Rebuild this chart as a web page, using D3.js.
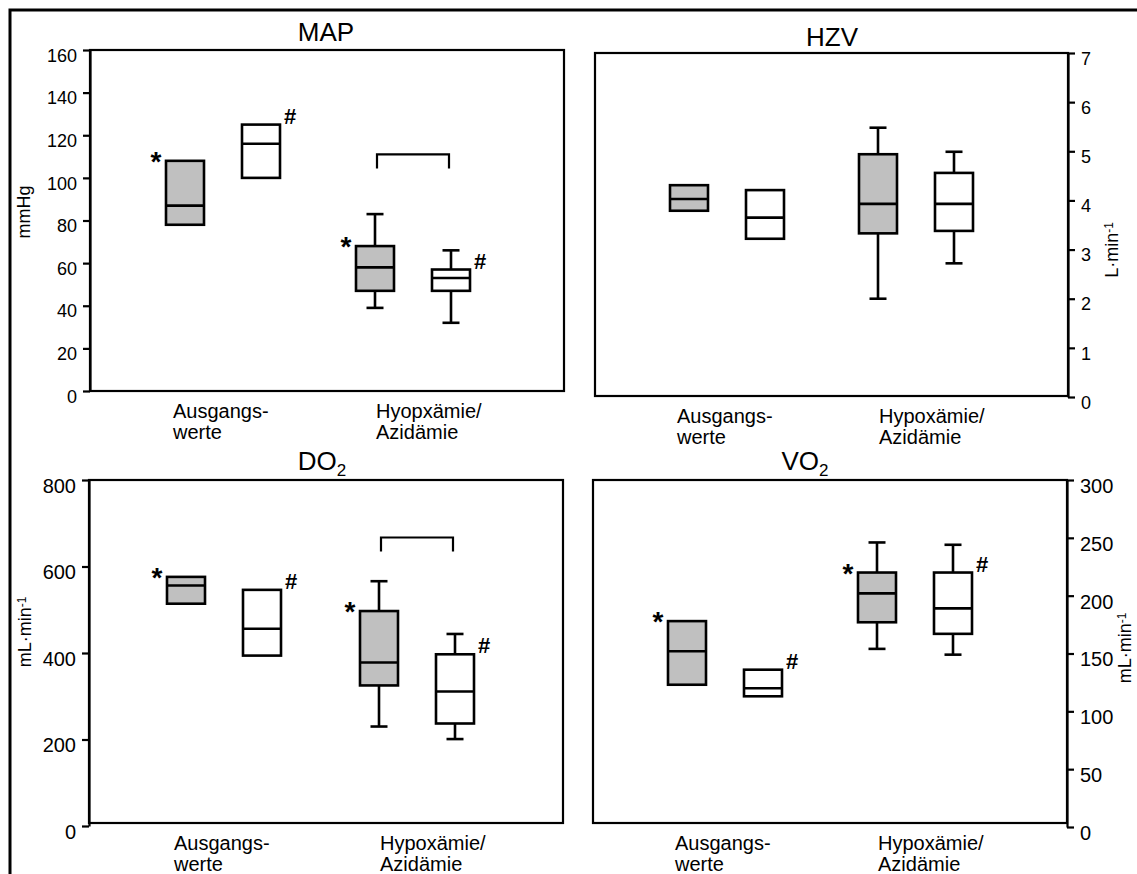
<!DOCTYPE html>
<html>
<head>
<meta charset="utf-8">
<script src="https://cdnjs.cloudflare.com/ajax/libs/d3/7.8.5/d3.min.js"></script>
<style>
  body { margin: 0; background: #fff; }
  svg { display: block; }
  text { font-family: "Liberation Sans", Arial, sans-serif; fill: #000; }
</style>
</head>
<body>
<svg id="chart" width="1137" height="874"></svg>
<script>
// categories (x groups) and the two series (grey / white boxes)
var categories = ["Ausgangswerte", "Hypoxämie/Azidämie"];
var series = ["grau", "weiss"];

// box values: [whisker low, q1, median, q3, whisker high], null = no whisker
// order: Ausgangswerte grau, Ausgangswerte weiss, Hypoxämie grau, Hypoxämie weiss
var mapBoxes = [
    [null, 78, 87, 108, null],
    [null, 100, 116, 125, null],
    [39, 47, 58, 68, 83],
    [32, 47, 53, 57, 66]
];
var hzvBoxes = [
    [null, 3.79, 4.03, 4.31, null],
    [null, 3.22, 3.65, 4.21, null],
    [2.0, 3.33, 3.93, 4.94, 5.48],
    [2.72, 3.38, 3.93, 4.56, 4.99]
];
var do2Boxes = [
    [null, 514, 556, 576, null],
    [null, 394, 456, 546, null],
    [230, 325, 378, 497, 566],
    [201, 237, 311, 397, 444]
];
var vo2Boxes = [
    [null, 123, 152, 178, null],
    [null, 113, 120, 136, null],
    [154, 177, 202, 220, 246],
    [149, 167, 189, 220, 244]
];

// axis ticks
var mapTicks = [0, 20, 40, 60, 80, 100, 120, 140, 160];
var hzvTicks = [0, 1, 2, 3, 4, 5, 6, 7];
var do2Ticks = [0, 200, 400, 600, 800];
var vo2Ticks = [0, 50, 100, 150, 200, 250, 300];

// category labels (two lines each)
var mapCatLabels = [["Ausgangs-", "werte"], ["Hyopxämie/", "Azidämie"]];
var catLabels = [["Ausgangs-", "werte"], ["Hypoxämie/", "Azidämie"]];

// significance symbols per series, and bracket level between the Hypoxämie boxes
var markSymbols = ["*", "#"];
var mapBracket = 111;
var do2Bracket = 667;

var panels = [
    {title: "MAP", sub: null, boxes: mapBoxes, ticks: mapTicks, domain: [0, 160], side: "left",
     unit: "mmHg", cats: mapCatLabels, marks: true, bracket: mapBracket,
     x0: 90, x1: 564, top: 50, bottom: 391, zero: 391, groups: [133, 323],
     titleX: 326, titleY: 41, tickFont: 18, unitX: 24, unitY: 212},
    {title: "HZV", sub: null, boxes: hzvBoxes, ticks: hzvTicks, domain: [0, 7], side: "right",
     unit: "L·min", unitSup: "-1", cats: catLabels, marks: false, bracket: null,
     x0: 595, x1: 1068, top: 53, bottom: 396, zero: 397, groups: [132, 321],
     titleX: 832, titleY: 46, tickFont: 18, unitX: 1112, unitY: 250},
    {title: "DO", sub: "2", boxes: do2Boxes, ticks: do2Ticks, domain: [0, 800], side: "left",
     unit: "mL·min", unitSup: "-1", cats: catLabels, marks: true, bracket: do2Bracket,
     x0: 89, x1: 563, top: 480, bottom: 823, zero: 826, groups: [135, 328],
     titleX: 322, titleY: 470, tickFont: 20, unitX: 25, unitY: 632},
    {title: "VO", sub: "2", boxes: vo2Boxes, ticks: vo2Ticks, domain: [0, 300], side: "right",
     unit: "mL·min", unitSup: "-1", cats: catLabels, marks: true, bracket: null,
     x0: 593, x1: 1067, top: 480, bottom: 823, zero: 827, groups: [132, 322],
     titleX: 805, titleY: 470, tickFont: 20, unitX: 1125, unitY: 648}
];

var svg = d3.select("#chart");

// outer frame (only top and left edges are visible)
svg.append("path")
    .attr("d", "M10,874 L10,10 L1137,10")
    .attr("fill", "none")
    .attr("stroke", "#000")
    .attr("stroke-width", 3);

var boxW = 38, capW = 17;

panels.forEach(function(p) {
    var g = svg.append("g");

    var y = d3.scaleLinear().domain(p.domain).range([p.zero, p.top]);
    var gx = d3.scalePoint().domain(categories).range([p.x0 + p.groups[0], p.x0 + p.groups[1]]);
    var sx = d3.scalePoint().domain(series).range([-38, 38]);

    // plot frame
    g.append("rect")
        .attr("x", p.x0).attr("y", p.top)
        .attr("width", p.x1 - p.x0).attr("height", p.bottom - p.top)
        .attr("fill", "none").attr("stroke", "#000").attr("stroke-width", 2.2);

    // y axis
    var axisX = p.side == "left" ? p.x0 : p.x1;
    var axis = (p.side == "left" ? d3.axisLeft(y) : d3.axisRight(y))
        .tickValues(p.ticks).tickFormat(d3.format("d"))
        .tickSize(7).tickSizeOuter(0).tickPadding(6);
    var ax = g.append("g")
        .attr("transform", "translate(" + axisX + ",0)")
        .call(axis)
        .attr("font-family", null).attr("font-size", null);
    ax.selectAll("path, line").attr("stroke", "#000").attr("stroke-width", 2.2);
    ax.selectAll("text")
        .style("font-size", p.tickFont + "px")
        .attr("dy", "0.62em");

    // unit label
    var ut = g.append("text")
        .attr("transform", "translate(" + p.unitX + "," + p.unitY + ") rotate(-90)")
        .attr("text-anchor", "middle")
        .attr("dy", "0.35em")
        .style("font-size", "18px")
        .text(p.unit);
    if (p.unitSup) {
        ut.append("tspan").attr("dy", "-0.45em").style("font-size", "12px").text(p.unitSup);
    }

    // title
    var tt = g.append("text")
        .attr("x", p.titleX).attr("y", p.titleY)
        .attr("text-anchor", "middle")
        .style("font-size", "26px")
        .text(p.title);
    if (p.sub) {
        tt.append("tspan").attr("dy", "6").style("font-size", "17px").text(p.sub);
    }

    // category labels
    var shift = [-50, -37];
    categories.forEach(function(c, ci) {
        var lab = g.append("text")
            .attr("x", gx(c) + shift[ci])
            .attr("y", p.bottom + 27)
            .style("font-size", "20px");
        lab.append("tspan").text(p.cats[ci][0]);
        lab.append("tspan").attr("x", gx(c) + shift[ci]).attr("dy", 21).text(p.cats[ci][1]);
    });

    // boxes
    var boxes = p.boxes.map(function(v, i) {
        return {
            v: v,
            cat: categories[Math.floor(i / 2)],
            ser: series[i % 2],
            si: i % 2
        };
    });
    boxes.forEach(function(d) {
        d.cx = gx(d.cat) + sx(d.ser);
    });

    var bg = g.selectAll(".box").data(boxes).enter().append("g").attr("class", "box");

    bg.each(function(d) {
        var b = d3.select(this);
        var v = d.v;
        if (v[0] != null) {
            b.append("line").attr("x1", d.cx).attr("x2", d.cx).attr("y1", y(v[0])).attr("y2", y(v[1]));
            b.append("line").attr("x1", d.cx - capW / 2).attr("x2", d.cx + capW / 2).attr("y1", y(v[0])).attr("y2", y(v[0]));
        }
        if (v[4] != null) {
            b.append("line").attr("x1", d.cx).attr("x2", d.cx).attr("y1", y(v[4])).attr("y2", y(v[3]));
            b.append("line").attr("x1", d.cx - capW / 2).attr("x2", d.cx + capW / 2).attr("y1", y(v[4])).attr("y2", y(v[4]));
        }
        b.append("rect")
            .attr("x", d.cx - boxW / 2).attr("width", boxW)
            .attr("y", y(v[3])).attr("height", y(v[1]) - y(v[3]))
            .attr("fill", d.si == 0 ? "#c0c0c0" : "#fff");
        b.append("line")
            .attr("x1", d.cx - boxW / 2).attr("x2", d.cx + boxW / 2)
            .attr("y1", y(v[2])).attr("y2", y(v[2]));
    });
    bg.selectAll("line, rect").attr("stroke", "#000").attr("stroke-width", 2.6);

    // significance markers
    if (p.marks) {
        boxes.forEach(function(d) {
            var top = y(d.v[3]);
            if (d.si == 0) {
                g.append("text")
                    .attr("x", d.cx - boxW / 2 - 10).attr("y", top - 6 + 16)
                    .attr("text-anchor", "middle")
                    .style("font-size", "28px").style("font-weight", "bold")
                    .text(markSymbols[0]);
            } else {
                g.append("text")
                    .attr("x", d.cx + boxW / 2 + 10).attr("y", top - 9 + 8)
                    .attr("text-anchor", "middle")
                    .style("font-size", "22px").style("font-weight", "bold")
                    .text(markSymbols[1]);
            }
        });
    }

    // bracket over the two Hypoxämie boxes
    if (p.bracket != null) {
        var xa = boxes[2].cx + 2, xb = boxes[3].cx - 2, yb = y(p.bracket);
        g.append("path")
            .attr("d", "M" + xa + "," + (yb + 14) + "V" + yb + "H" + xb + "V" + (yb + 14))
            .attr("fill", "none").attr("stroke", "#000").attr("stroke-width", 2.2);
    }
});
</script>
</body>
</html>
